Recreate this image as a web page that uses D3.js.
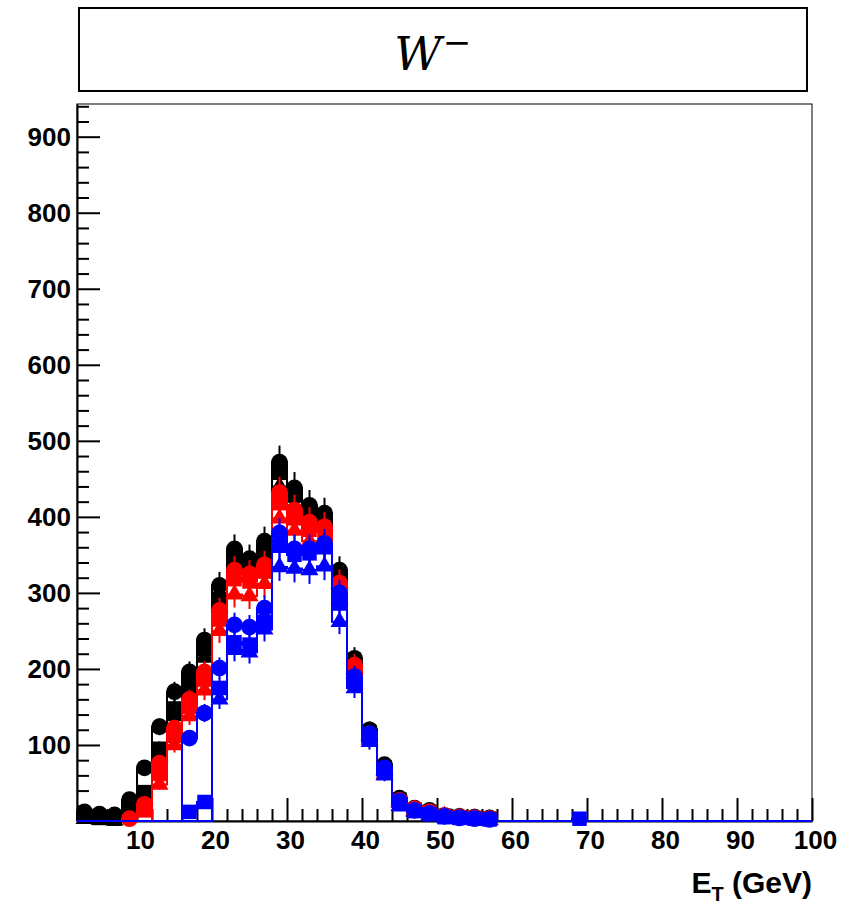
<!DOCTYPE html>
<html>
<head>
<meta charset="utf-8">
<script src="https://cdn.jsdelivr.net/npm/d3@7"></script>
<style>
  body { margin: 0; background: #fff; }
  text { font-family: "Liberation Sans", Arial, sans-serif; }
</style>
</head>
<body>
<div class="canvas"></div>
<script>
// bin lower edges (GeV), width 2
const binLo = [2,4,6,8,10,12,14,16,18,20,22,24,26,28,30,32,34,36,38,40,42,44,46,48,50,52,54,56,58,60,62,64,66,68];

const blackCirc = [12,9,8,28,70,124,170,196,238,310,358,345,368,472,438,415,405,330,214,120,74,30,17,14,7,6,5,4,0,0,0,0,0,0];
const blackSq   = [6,4,3,15,38,95,148,180,226,292,345,335,355,458,428,402,396,320,207,117,70,28,15,12,7,5,4,3,0,0,0,0,0,0];
const blackTri  = [3,2,1,10,30,85,138,172,215,282,335,325,345,440,415,392,388,312,200,113,67,26,14,11,6,4,3,2,0,0,0,0,0,0];

const redCirc = [0,0,0,3,22,76,122,160,196,277,330,325,337,432,409,393,387,313,205,113,67,27,16,12,7,5,4,3,0,0,0,0,0,0];
const redSq   = [0,0,0,0,14,62,112,150,186,265,318,315,328,418,398,383,380,305,200,110,65,25,15,11,6,5,4,3,0,0,0,0,0,0];
const redTri  = [0,0,0,0,0,48,100,138,172,250,298,296,312,398,382,368,366,292,194,107,62,24,14,10,6,4,3,2,0,0,0,0,0,0];

const blueCirc = [0,0,0,0,0,0,0,109,142,201,258,255,280,379,358,358,365,300,190,115,70,26,14,10,6,4,3,2,0,0,0,0,0,0];
const blueSq   = [0,0,0,0,0,0,0,12,25,175,235,232,262,362,350,352,360,286,183,110,66,22,13,9,5,4,3,2,0,0,0,0,0,3];
const blueTri  = [0,0,0,0,0,0,0,0,0,160,225,222,252,334,332,330,335,262,175,104,60,20,12,8,5,3,2,1,0,0,0,0,0,0];

const yMajor = [100,200,300,400,500,600,700,800,900];
const xMajor = [10,20,30,40,50,60,70,80,90,100];

const series = [
  { vals: blackTri,  colour: '#000', shape: 'tri' },
  { vals: blackSq,   colour: '#000', shape: 'sq' },
  { vals: blackCirc, colour: '#000', shape: 'circ' },
  { vals: redTri,    colour: '#f00', shape: 'tri' },
  { vals: redSq,     colour: '#f00', shape: 'sq' },
  { vals: redCirc,   colour: '#f00', shape: 'circ' },
  { vals: blueTri,   colour: '#00f', shape: 'tri' },
  { vals: blueSq,    colour: '#00f', shape: 'sq' },
  { vals: blueCirc,  colour: '#00f', shape: 'circ' }
];

const dims = { width: 854, height: 906 };
const frame = { left: 77, right: 812, top: 104, bottom: 821 };

const svg = d3.select('.canvas')
  .append('svg')
  .attr('width', dims.width)
  .attr('height', dims.height);

const x = d3.scaleLinear().domain([2, 100]).range([frame.left, frame.right]);
const y = d3.scaleLinear().domain([0, 943]).range([frame.bottom, frame.top]);

// title box
svg.append('rect')
  .attr('x', 79).attr('y', 8).attr('width', 728).attr('height', 83)
  .attr('fill', 'none').attr('stroke', '#000').attr('stroke-width', 2);

svg.append('text')
  .attr('x', 418).attr('y', 70)
  .attr('text-anchor', 'middle')
  .style('font-family', '"DejaVu Serif", "Liberation Serif", serif')
  .style('font-style', 'italic')
  .style('font-size', '46px')
  .text('W');

// superscript minus
svg.append('text')
  .attr('x', 457).attr('y', 54)
  .attr('text-anchor', 'middle')
  .style('font-family', '"DejaVu Serif", "Liberation Serif", serif')
  .style('font-size', '34px')
  .text('\u2212');

// frame
svg.append('rect')
  .attr('x', frame.left).attr('y', frame.top)
  .attr('width', frame.right - frame.left).attr('height', frame.bottom - frame.top)
  .attr('fill', 'none').attr('stroke', '#000').attr('stroke-width', 1);

const labelStyle = g => g.selectAll('text')
  .style('font-size', '26px').style('font-weight', 'bold')
  .style('font-family', '"Liberation Sans", Arial, sans-serif');

// y axis major + minor
const yMinor = d3.range(20, 941, 20).filter(v => v % 100 !== 0);

svg.append('g')
  .attr('transform', `translate(${frame.left},0)`)
  .call(d3.axisLeft(y).tickValues(yMinor).tickSizeInner(-12).tickSizeOuter(0).tickFormat(''))
  .call(g => g.selectAll('line').attr('stroke-width', 2));

svg.append('g')
  .attr('transform', `translate(${frame.left},0)`)
  .call(d3.axisLeft(y).tickValues(yMajor).tickSizeInner(-23).tickSizeOuter(0).tickPadding(6))
  .call(g => g.select('.domain').attr('stroke-width', 2))
  .call(g => g.selectAll('line').attr('stroke-width', 2))
  .call(labelStyle);

// x axis major + minor
const xMinor = d3.range(4, 100, 2).filter(v => v % 10 !== 0);

svg.append('g')
  .attr('transform', `translate(0,${frame.bottom})`)
  .call(d3.axisBottom(x).tickValues(xMinor).tickSizeInner(-12).tickSizeOuter(0).tickFormat(''))
  .call(g => g.selectAll('line').attr('stroke-width', 2));

svg.append('g')
  .attr('transform', `translate(0,${frame.bottom})`)
  .call(d3.axisBottom(x).tickValues(xMajor).tickSizeInner(-23).tickSizeOuter(0).tickPadding(10))
  .call(g => g.select('.domain').attr('stroke-width', 2))
  .call(g => g.selectAll('line').attr('stroke-width', 2))
  .call(labelStyle)
  .call(g => g.selectAll('text').attr('dx', 3));

// axis title
const xt = svg.append('text')
  .attr('x', frame.right).attr('y', 893)
  .attr('text-anchor', 'end')
  .style('font-size', '30px').style('font-weight', 'bold');
xt.append('tspan').text('E');
xt.append('tspan').attr('dy', 8).style('font-size', '20px').text('T');
xt.append('tspan').attr('dy', -8).text(' (GeV)');

// histogram outline
const stepLine = d3.line()
  .x(d => x(d[0]))
  .y(d => y(d[1]))
  .curve(d3.curveStepAfter);

const plot = svg.append('g');

series.forEach(s => {
  const pts = [[2, 0]];
  s.vals.forEach((v, i) => pts.push([binLo[i], v]));
  pts.push([70, 0], [100, 0]);

  plot.append('path')
    .attr('d', stepLine(pts))
    .attr('fill', 'none')
    .attr('stroke', s.colour)
    .attr('stroke-width', 2);

  const data = s.vals.map((v, i) => ({ c: binLo[i] + 1, v })).filter(d => d.v > 0);

  // error bars
  plot.selectAll(null)
    .data(data)
    .enter().append('line')
      .attr('x1', d => x(d.c)).attr('x2', d => x(d.c))
      .attr('y1', d => y(d.v - Math.sqrt(d.v)))
      .attr('y2', d => y(d.v + Math.sqrt(d.v)))
      .attr('stroke', s.colour)
      .attr('stroke-width', 2);

  // markers
  const sym = s.shape === 'circ' ? d3.symbolCircle : s.shape === 'sq' ? d3.symbolSquare : d3.symbolTriangle;
  const size = s.shape === 'circ' ? 220 : s.shape === 'sq' ? 210 : 140;

  plot.selectAll(null)
    .data(data)
    .enter().append('path')
      .attr('transform', d => `translate(${x(d.c)},${y(d.v)})`)
      .attr('d', d3.symbol().type(sym).size(size))
      .attr('fill', s.colour);
});
</script>
</body>
</html>
